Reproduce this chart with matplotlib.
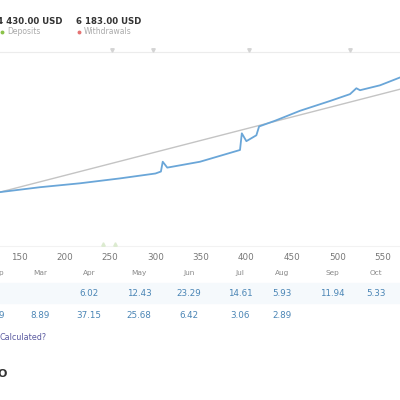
import matplotlib.pyplot as plt

# equity curve (day index, balance units)
days = [129, 173, 217, 261, 300, 306, 308, 313, 349, 393, 395, 400, 411, 414,
        432, 459, 492, 514, 521, 525, 547, 569]
equity = [55, 60, 64, 69, 74, 76, 86, 80, 86, 98, 115, 107, 113, 122,
          128, 138, 148, 155, 161, 159, 164, 172]
trend_days = [129, 569]
trend_vals = [55, 160]
x_ticks = [150, 200, 250, 300, 350, 400, 450, 500, 550]

months = ['p', 'Mar', 'Apr', 'May', 'Jun', 'Jul', 'Aug', 'Sep', 'Oct']
row1 = ['', '', '6.02', '12.43', '23.29', '14.61', '5.93', '11.94', '5.33']
row2 = ['9', '8.89', '37.15', '25.68', '6.42', '3.06', '2.89', '', '']
month_x = [1, 40, 89, 139, 189, 240, 282, 332, 376]

fig = plt.figure(figsize=(4, 4), dpi=100)
bg = fig.add_axes([0, 0, 1, 1])
bg.set_xlim(0, 400)
bg.set_ylim(400, 0)
bg.axis('off')

# header
bg.text(-3, 22, '4 430.00 USD', fontsize=6.2, fontweight='semibold', color='#333333', va='center')
bg.plot([2], [32], 'o', ms=1.8, color='#8bc34a')
bg.text(7, 32, 'Deposits', fontsize=5.5, color='#aaaaaa', va='center')
bg.text(76, 22, '6 183.00 USD', fontsize=6.2, fontweight='semibold', color='#333333', va='center')
bg.plot([79], [32], 'o', ms=1.8, color='#e57373')
bg.text(84, 32, 'Withdrawals', fontsize=5.5, color='#aaaaaa', va='center')

# markers on borders
bg.plot([0, 400], [52, 52], color='#ececec', lw=0.8)
bg.plot([0, 400], [246, 246], color='#f2f2f2', lw=0.8)
bg.plot([112, 153, 249, 350], [50, 50, 50, 50], 'v', ms=2.5, color='#d4d4d4')
bg.plot([103, 115], [244, 244], '^', ms=2.5, color='#dcebd0')

# table
bg.axhspan(283, 303, color='#f5f9fc', zorder=0)
for x, m, a, b in zip(month_x, months, row1, row2):
    bg.text(x, 273, m, fontsize=5.3, color='#888888', ha='center', va='center')
    bg.text(x, 293, a, fontsize=6.3, color='#4a85b5', ha='center', va='center')
    bg.text(x, 315, b, fontsize=6.3, color='#4a85b5', ha='center', va='center')
bg.text(0, 337, 'Calculated?', fontsize=5.8, color='#5a5aa0', va='center')
bg.text(-3, 374, 'O', fontsize=8, fontweight='bold', color='#333333', va='center')

# chart
ax = fig.add_axes([0, 1 - 246 / 400, 1, (246 - 52) / 400])
ax.plot(trend_days, trend_vals, color='#c4c4c4', lw=1)
ax.plot(days, equity, color='#6aa6d8', lw=1.3)
ax.set_xlim(129, 569)
ax.set_ylim(0, 198)
ax.axis('off')
for t in x_ticks:
    bg.text((t - 129) / 1.1, 257, str(t), fontsize=6.3, color='#777777', ha='center', va='center')

fig.savefig('out.png')
